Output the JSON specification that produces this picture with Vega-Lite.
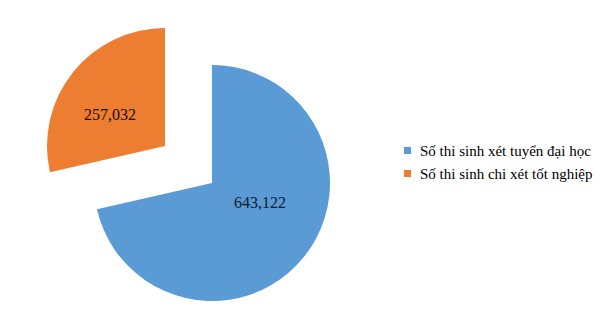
{
  "$schema": "https://vega.github.io/schema/vega-lite/v6.json",
  "width": 424,
  "height": 300,
  "autosize": "none",
  "padding": {"left": 0, "top": 33, "right": 180, "bottom": 0},
  "background": "white",
  "config": {"view": {"stroke": null}},
  "data": {
    "values": [
      {"category": "Số thi sinh xét tuyển đại học", "value": 643122},
      {"category": "Số thi sinh chi xét tốt nghiệp", "value": 257032}
    ]
  },
  "encoding": {
    "theta": {"field": "value", "type": "quantitative", "stack": true},
    "order": {"field": "value", "sort": "descending"},
    "color": {
      "field": "category",
      "type": "nominal",
      "scale": {
        "domain": ["Số thi sinh xét tuyển đại học", "Số thi sinh chi xét tốt nghiệp"],
        "range": ["#5B9BD5", "#ED7D31"]
      },
      "legend": {
        "title": null,
        "orient": "none",
        "legendX": 400,
        "legendY": 110,
        "symbolType": "square",
        "symbolSize": 50,
        "symbolStrokeWidth": 0,
        "labelFont": "'Liberation Serif', serif",
        "labelFontSize": 15,
        "labelColor": "#000000",
        "labelLimit": 250,
        "rowPadding": 7,
        "labelOffset": 5
      }
    }
  },
  "layer": [
    {
      "mark": {"type": "arc", "outerRadius": 118},
      "encoding": {
        "opacity": {
          "condition": {"test": "datum.category === 'Số thi sinh xét tuyển đại học'", "value": 1},
          "value": 0
        }
      }
    },
    {
      "mark": {"type": "arc", "outerRadius": 118, "xOffset": -47, "yOffset": -37},
      "encoding": {
        "opacity": {
          "condition": {"test": "datum.category === 'Số thi sinh chi xét tốt nghiệp'", "value": 1},
          "value": 0
        }
      }
    },
    {
      "mark": {"type": "text", "radius": 55, "dx": 5, "dy": -14, "font": "'Liberation Serif', serif", "fontSize": 16},
      "encoding": {
        "color": {"value": "#0d1a2a"},
        "text": {
          "condition": {"test": "datum.category === 'Số thi sinh xét tuyển đại học'", "field": "value", "format": ","},
          "value": ""
        }
      }
    },
    {
      "mark": {"type": "text", "radius": 60, "xOffset": -47, "yOffset": -37, "dx": -8, "dy": 6, "font": "'Liberation Serif', serif", "fontSize": 16},
      "encoding": {
        "color": {"value": "#1a0d05"},
        "text": {
          "condition": {"test": "datum.category === 'Số thi sinh chi xét tốt nghiệp'", "field": "value", "format": ","},
          "value": ""
        }
      }
    }
  ]
}
